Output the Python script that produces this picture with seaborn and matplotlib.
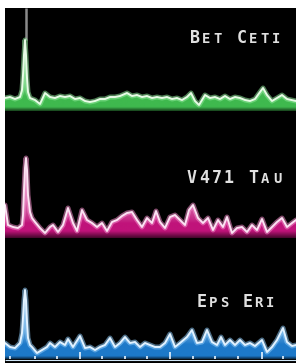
import numpy as np
import matplotlib
matplotlib.use("Agg")
import matplotlib.pyplot as plt
import seaborn as sns
from matplotlib.colors import to_rgb
from matplotlib.patches import PathPatch

# star names
names = ["BET CETI", "V471 TAU", "EPS ERI"]

# channel positions and signal height above the baseline, one spectrum per star
bet_x = [5, 10, 15, 20, 22, 23, 24, 25, 26, 27,
         28, 30, 35, 40, 45, 50, 55, 60, 65, 70,
         75, 80, 85, 90, 95, 100, 105, 110, 115, 120,
         127, 132, 137, 142, 147, 152, 157, 162, 167, 172,
         177, 182, 187, 191, 195, 199, 205, 210, 215, 220,
         225, 230, 235, 240, 245, 250, 255, 260, 263, 267,
         272, 277, 282, 287, 296]
bet_h = [13, 14, 12, 14, 21, 36, 56, 71, 56, 33,
         19, 13, 11, 7, 18, 14, 13, 15, 14, 15,
         12, 13, 10, 9, 10, 12, 12, 14, 14, 15,
         18, 15, 16, 14, 15, 13, 14, 13, 14, 12,
         13, 11, 14, 18, 10, 6, 16, 13, 14, 12,
         15, 12, 14, 13, 11, 10, 12, 19, 23, 16,
         10, 13, 16, 12, 10]

tau_x = [5, 8, 13, 18, 22, 23, 24, 25, 26, 27,
         28, 30, 32, 35, 40, 45, 50, 53, 58, 63,
         68, 73, 77, 82, 87, 92, 97, 102, 107, 112,
         117, 122, 127, 132, 137, 142, 147, 152, 156, 160,
         165, 170, 175, 180, 185, 189, 193, 198, 203, 208,
         213, 218, 223, 227, 232, 237, 242, 247, 252, 257,
         262, 267, 272, 277, 282, 287, 292, 296]
tau_h = [33, 13, 11, 10, 13, 23, 48, 70, 80, 68,
         43, 26, 20, 16, 10, 5, 11, 13, 6, 13,
         30, 15, 7, 28, 18, 15, 11, 15, 7, 16,
         18, 22, 25, 26, 18, 11, 20, 15, 27, 16,
         10, 21, 23, 18, 13, 28, 33, 20, 15, 20,
         8, 18, 11, 21, 5, 10, 11, 6, 13, 8,
         19, 6, 11, 16, 20, 11, 15, 18]

eps_x = [5, 10, 15, 20, 22, 23, 24, 25, 26, 27,
         28, 30, 32, 37, 42, 47, 50, 55, 60, 65,
         68, 73, 80, 85, 90, 95, 100, 105, 110, 115,
         120, 125, 130, 135, 140, 145, 150, 155, 160, 165,
         170, 175, 180, 187, 192, 197, 202, 207, 212, 217,
         221, 225, 230, 235, 240, 245, 250, 255, 262, 267,
         272, 277, 283, 287, 292, 296]
eps_h = [16, 12, 11, 16, 26, 41, 59, 69, 59, 37,
         21, 14, 12, 6, 9, 12, 16, 12, 17, 14,
         20, 12, 23, 11, 12, 9, 12, 14, 21, 12,
         16, 22, 16, 17, 12, 16, 14, 12, 12, 16,
         25, 12, 16, 22, 29, 16, 17, 29, 17, 14,
         22, 14, 19, 14, 19, 14, 16, 13, 19, 7,
         12, 19, 31, 17, 13, 14]

# scale marks under the last spectrum
eps_ticks = [10, 35, 57, 80, 102, 125, 147, 170, 193, 215, 238, 262, 283]
eps_major = [80, 170, 262]

sns.set_style("white")
plt.rcParams["font.family"] = ["DejaVu Sans Mono", "DejaVu Sans"]

fig = plt.figure(figsize=(2.96, 3.63), dpi=100)
fig.patch.set_facecolor("white")
ax = fig.add_axes([5 / 296, 0, 291 / 296, 355 / 363])
ax.set_facecolor("black")


def gradient_fill(x, h, baseline, color, band):
    x = np.asarray(x, float)
    y = baseline - np.asarray(h, float)
    poly = ax.fill_between(x, y, baseline, color="none", lw=0)
    clip = PathPatch(poly.get_paths()[0], transform=ax.transData,
                     facecolor="none", edgecolor="none")
    ax.add_patch(clip)
    peak = max(h)
    n = 300
    lev = np.linspace(0, peak, n)
    base = np.array(to_rgb(color))
    dark = base * 0.35
    rgb = np.zeros((n, 3))
    for i, v in enumerate(lev):
        if v < band:
            t = v / band
            rgb[i] = dark * (1 - t) + base * t
        elif v < 15:
            rgb[i] = base
        else:
            t = ((v - 15) / (peak - 15)) ** 0.8 * 0.92
            rgb[i] = base * (1 - t) + np.ones(3) * t
    im = ax.imshow(rgb[:, None, :], extent=(x.min(), x.max(), baseline, baseline - peak),
                   origin="lower", aspect="auto", zorder=1, interpolation="bilinear")
    im.set_clip_path(clip)
    return y


def draw_spectrum(x, h, baseline, color, glow, core, band):
    y = gradient_fill(x, h, baseline, color, band)
    sns.lineplot(x=x, y=y, ax=ax, color=glow, lw=3.6, alpha=0.55, sort=False, zorder=3)
    sns.lineplot(x=x, y=y, ax=ax, color=core, lw=1.4, sort=False, zorder=4)
    return y


def small_caps(label, x0, y0, adv, big=12, small=10):
    i = 0
    for word in label.split(" "):
        for j, ch in enumerate(word):
            size = big if (j == 0 or ch.isdigit()) else small
            ax.text(x0 + i * adv, y0, ch, fontsize=size, fontweight="bold",
                    color="#e0e0e0", ha="left", va="baseline", zorder=6)
            i += 1
        i += 1


# Bet Ceti - green
y_bet = draw_spectrum(bet_x, bet_h, 111, "#3fb94e", "#8fe69a", "#e8fbe6", 4)
k = int(np.argmax(bet_h))
ax.vlines(bet_x[k] + 0.5, 8, y_bet[k], color="#8a8a8a", lw=1.8, zorder=2)
small_caps(names[0], 190, 43, 11.7)

# V471 Tau - magenta
draw_spectrum(tau_x, tau_h, 238, "#c0137a", "#f08cc8", "#fbe2f2", 7)
small_caps(names[1], 187, 183, 12.3)

# Eps Eri - blue
draw_spectrum(eps_x, eps_h, 359, "#1d79c9", "#8cc8f5", "#e2f2ff", 3)
ax.hlines(359.5, 5, 296, color="#cfe6f7", lw=0.8, zorder=5)
for t in eps_ticks:
    tall = 7 if t in eps_major else 3
    ax.vlines(t, 359, 359 - tall, color="#e8f4ff", lw=1.2, zorder=5)
small_caps(names[2], 197, 307, 11.5)

ax.set_xlim(5, 296)
ax.set_ylim(363, 8)
ax.set_xticks([])
ax.set_yticks([])
ax.set_xlabel("")
ax.set_ylabel("")
for s in ax.spines.values():
    s.set_visible(False)

fig.savefig("out.png", dpi=100)
